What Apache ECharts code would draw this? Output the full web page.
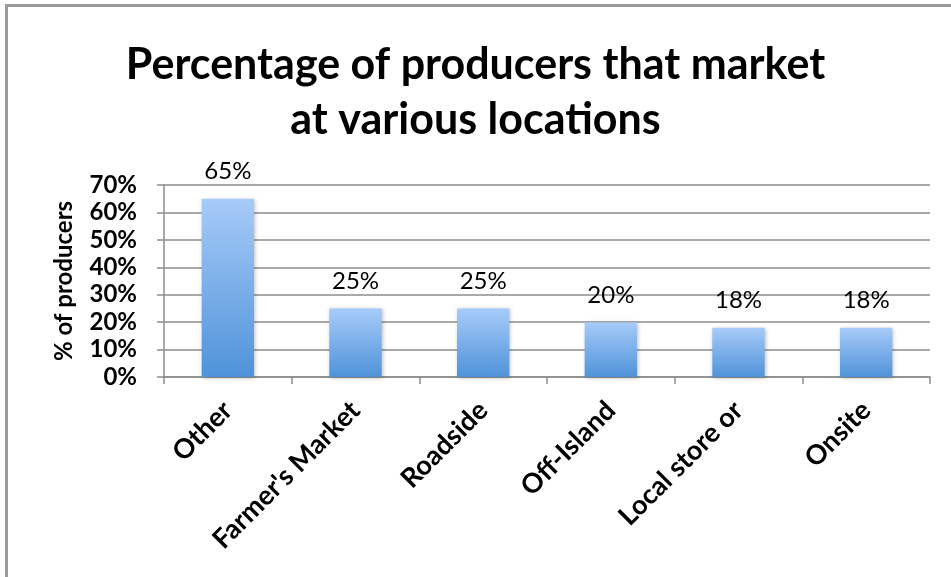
<!DOCTYPE html>
<html>
<head>
<meta charset="utf-8">
<script src="https://cdn.jsdelivr.net/npm/echarts@6/dist/echarts.min.js"></script>
<style>
  html, body { margin: 0; padding: 0; background: #fff; overflow: hidden; }
  #chart { width: 951px; height: 577px; }
</style>
</head>
<body>
<div id="chart"></div>
<script>
// Share of producers selling at each kind of location
const locations = ['Other', "Farmer's Market", 'Roadside', 'Off-Island', 'Local store or', 'Onsite'];
const producerShare = [65, 25, 25, 20, 18, 18];
const yTicks = [0, 10, 20, 30, 40, 50, 60, 70];

const FONT = 'Lato, "Open Sans", sans-serif';
const AXIS_GREY = '#8c8c8c';

const chart = echarts.init(document.getElementById('chart'));
chart.setOption({
  animation: false,
  backgroundColor: '#fff',
  title: {
    text: 'Percentage of producers that market\nat various locations',
    left: 'center',
    top: 33,
    textStyle: {
      fontFamily: FONT,
      fontWeight: 'bold',
      fontSize: 43,
      lineHeight: 55,
      color: '#000'
    }
  },
  // chart frame: only its top and left edges fall inside the page
  graphic: [{
    type: 'polyline',
    shape: { points: [[6.5, 577], [6.5, 5.5], [951, 5.5]] },
    style: { fill: null, stroke: '#9a9a9a', lineWidth: 3 },
    silent: true
  }],
  grid: { left: 164, right: 21, top: 185, bottom: 200 },
  xAxis: {
    type: 'category',
    data: locations,
    axisLine: { lineStyle: { color: AXIS_GREY, width: 1.5 } },
    axisTick: { show: true, length: 7, lineStyle: { color: AXIS_GREY, width: 1.5 } },
    axisLabel: {
      rotate: 45,
      interval: 0,
      margin: 29,
      fontFamily: FONT,
      fontWeight: 'bold',
      fontSize: 27,
      color: '#000'
    }
  },
  yAxis: {
    type: 'value',
    min: 0,
    max: 70,
    interval: 10,
    name: '% of producers',
    nameLocation: 'middle',
    nameGap: 88,
    nameRotate: 90,
    nameTextStyle: {
      fontFamily: FONT,
      fontWeight: 'bold',
      fontSize: 24,
      color: '#000'
    },
    axisLine: { show: true, lineStyle: { color: AXIS_GREY, width: 1.5 } },
    axisTick: { show: true, length: 7, lineStyle: { color: AXIS_GREY, width: 1.5 } },
    splitLine: { show: true, lineStyle: { color: AXIS_GREY, width: 1.5 } },
    axisLabel: {
      margin: 27,
      fontFamily: FONT,
      fontWeight: 'bold',
      fontSize: 24,
      color: '#000',
      formatter: v => (yTicks.includes(v) ? v + '%' : '')
    }
  },
  series: [{
    type: 'bar',
    data: producerShare,
    barWidth: '41%',
    itemStyle: {
      color: new echarts.graphic.LinearGradient(0, 0, 0, 1, [
        { offset: 0, color: '#a7cbf9' },
        { offset: 1, color: '#4f93d9' }
      ]),
      shadowColor: 'rgba(0,0,0,0.25)',
      shadowBlur: 4,
      shadowOffsetX: 1,
      shadowOffsetY: 1
    },
    label: {
      show: true,
      position: 'top',
      distance: 15,
      fontFamily: FONT,
      fontSize: 24,
      color: '#000',
      formatter: p => p.value + '%'
    }
  }]
});
</script>
</body>
</html>
